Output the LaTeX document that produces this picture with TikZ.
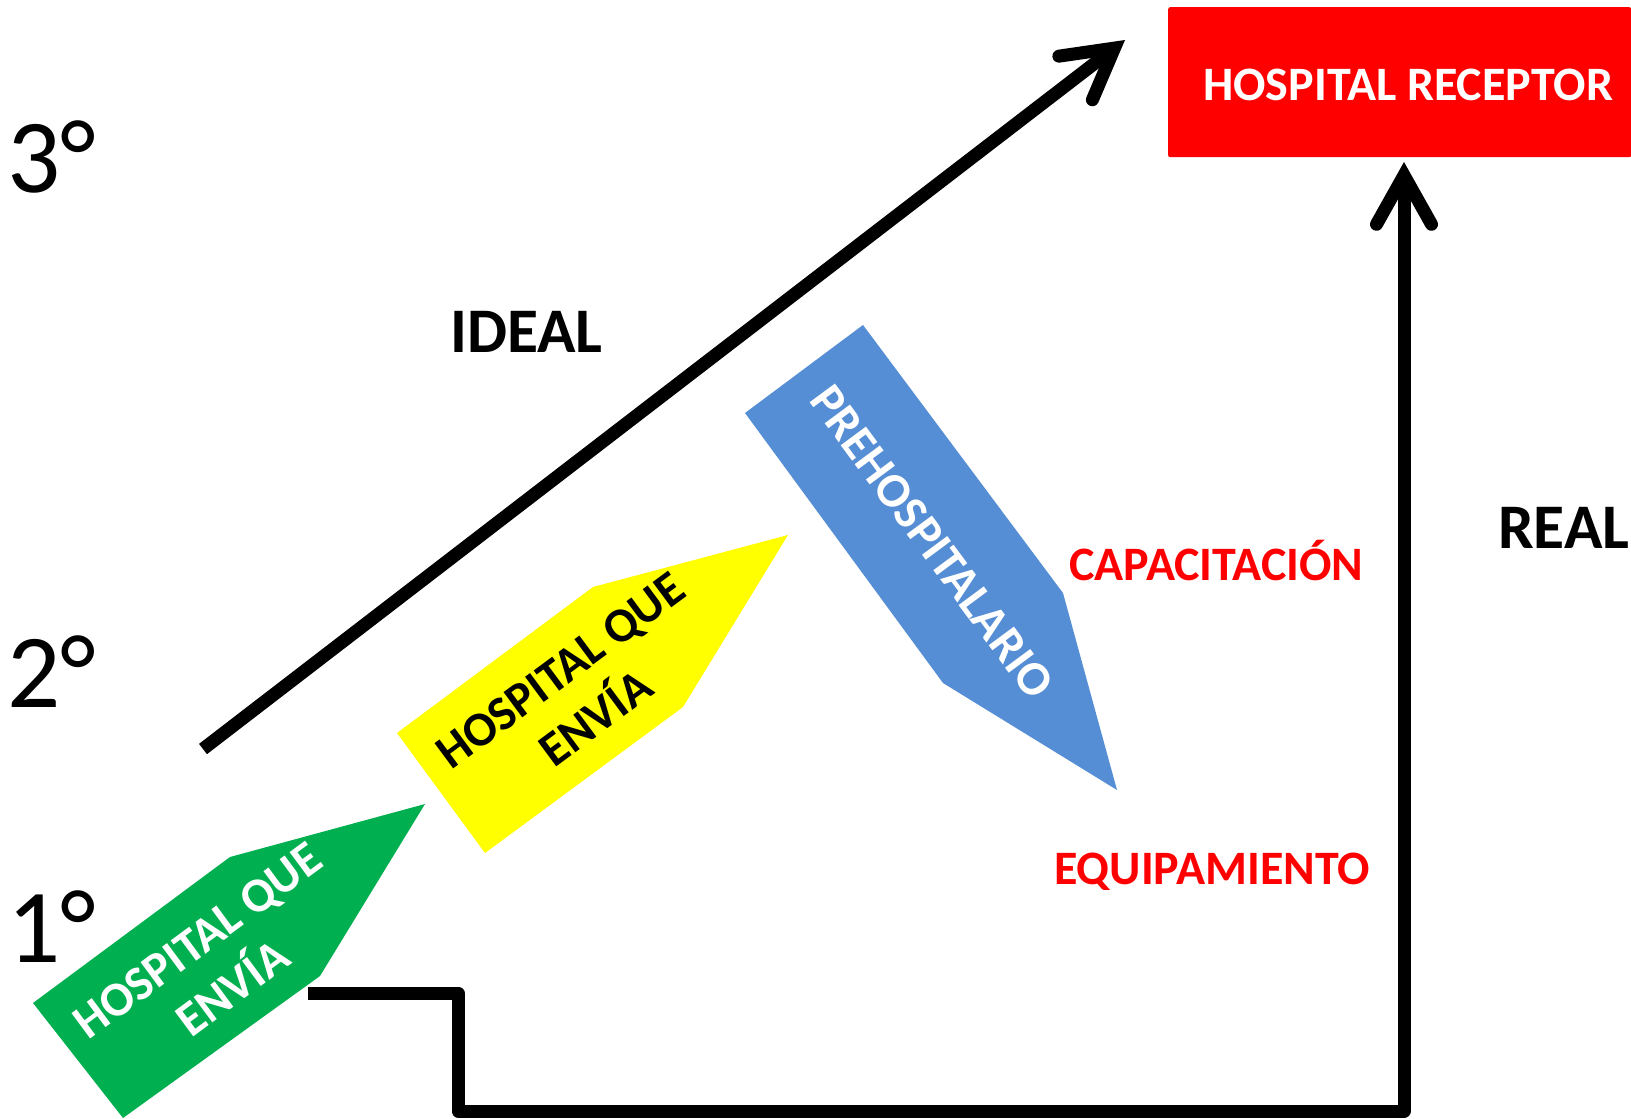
\documentclass[tikz,border=0pt]{standalone}
\usepackage{fontspec}
\setmainfont{Carlito}
\usetikzlibrary{arrows.meta}
\definecolor{grn}{RGB}{0,176,80}
\definecolor{ylw}{RGB}{255,255,0}
\definecolor{blu}{RGB}{85,142,213}
\definecolor{rd}{RGB}{255,0,0}
\begin{document}
\begin{tikzpicture}[x=1pt,y=-1pt,
  lbl/.style={inner sep=0pt, font=\fontsize{48}{58}\selectfont\bfseries},
  big/.style={inner sep=0pt, font=\fontsize{63.5}{70}\selectfont\bfseries},
  deg/.style={inner sep=0pt, font=\fontsize{105}{110}\selectfont},
  shapetext/.style={align=center, inner sep=0pt, font=\fontsize{48.5}{59}\selectfont\bfseries},
  conn/.style={line width=13pt, black},
  tip/.style={-{Straight Barb[length=49pt,width=55pt,line cap=round,line join=miter]}}
]
\useasboundingbox (0,0) rectangle (1631,1119);
\fill[white] (0,0) rectangle (1631,1119);

% red box
\node[fill=rd, minimum width=463pt, minimum height=150pt, anchor=north west, inner sep=0pt, rounded corners=2pt] (receptor) at (1168,7) {};
\node[lbl, white, anchor=base west] (receptorlbl) at (1203,100) {HOSPITAL RECEPTOR};

% shapes
\fill[grn] (33,1003) -- (230,857) -- (425,804) -- (320,976) -- (123,1118) -- cycle;
\fill[ylw] (397,733) -- (593,587) -- (788,535) -- (683,707) -- (485,853) -- cycle;
\fill[blu] (863,325) -- (1063,593) -- (1117,790) -- (943,683) -- (745,413) -- cycle;

\node[shapetext, white, rotate=36.5] (green) at (215,964) {HOSPITAL QUE\\ENVÍA};
\node[shapetext, black, rotate=36.5] (yellow) at (578,694) {HOSPITAL QUE\\ENVÍA};
\node[shapetext, white, rotate=-53.5] (blue) at (932,542) {PREHOSPITALARIO};

% labels
\node[deg, anchor=base west] (d3) at (7,192) {3°};
\node[deg, anchor=base west] (d2) at (7,707) {2°};
\node[deg, anchor=base west] (d1) at (7,962) {1°};
\node[big, anchor=base west] (ideal) at (450,352) {IDEAL};
\node[big, anchor=base west] (real) at (1498,548) {REAL};
\node[lbl, rd, anchor=base west] (capac) at (1069,580) {CAPACITACIÓN};
\node[lbl, rd, anchor=base west] (equip) at (1054,884) {EQUIPAMIENTO};

% connectors
\coordinate (idealstart) at (203,749);
\coordinate (idealend) at (1125,40);
\draw[conn, tip] (idealstart) -- (idealend);

\coordinate (stepstart) at (308,993);
\coordinate (realend) at (1404,162);
\draw[conn, line join=round, tip] (stepstart) -- (458,993) -- (458,1111) -- (1404,1111) -- (realend);
\end{tikzpicture}
\end{document}
